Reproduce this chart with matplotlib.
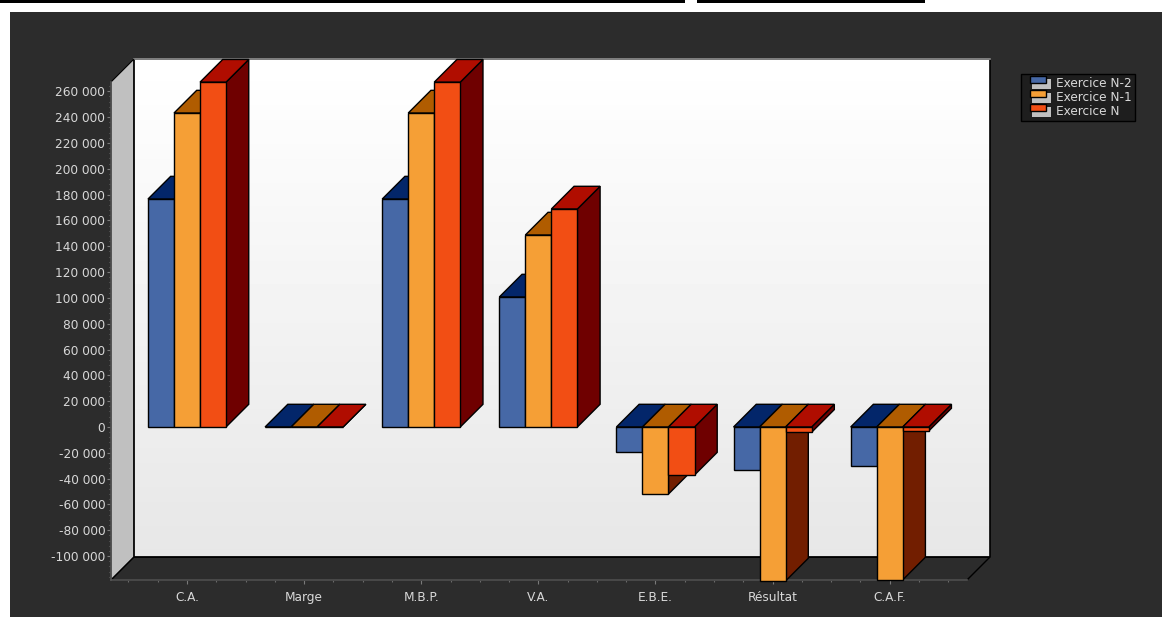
import numpy as np
import matplotlib
matplotlib.use('Agg')
import matplotlib.pyplot as plt
from matplotlib.patches import Polygon, Rectangle
from matplotlib.legend_handler import HandlerBase
from matplotlib.ticker import FuncFormatter, MultipleLocator

# DATA
categories = ['C.A.', 'Marge', 'M.B.P.', 'V.A.', 'E.B.E.', 'Résultat', 'C.A.F.']
series_names = ['Exercice N-2', 'Exercice N-1', 'Exercice N']
exercice_n2 = [176500, 0, 176500, 100650, -19600, -33000, -30400]
exercice_n1 = [243100, 0, 243100, 148650, -51900, -119200, -118400]
exercice_n = [267000, 0, 267000, 168800, -37200, -4100, -3100]

# STYLE
front_colors = ['#4668a6', '#f59f36', '#f24e14']
top_colors = ['#03266a', '#b05c00', '#b00d00']
side_colors = ['#03266a', '#721e00', '#6f0000']
panel_color = '#2c2c2c'
text_color = '#d8d8d8'
W, H = 1162, 617
DEPTH = 22.7  # pixels
PX = 0.72  # one pixel in points at dpi 100


def px_axes(fig, left, top, right, bottom):
    return fig.add_axes([left / W, 1 - bottom / H, (right - left) / W, (bottom - top) / H])


class ShadowHandler(HandlerBase):
    def create_artists(self, legend, orig, xd, yd, width, height, fontsize, trans):
        x0 = -xd
        cy = -yd + height / 2
        shadow = Rectangle((x0 + 7.5 * PX, cy - 6.5 * PX), 19 * PX, 10 * PX, fc='#c0c0c0', ec='none', transform=trans)
        box = Rectangle((x0 + 5 * PX, cy - 0.5 * PX), 16 * PX, 7 * PX, fc=orig[0].get_facecolor(), ec='black', lw=1, transform=trans)
        return [shadow, box]


fig = plt.figure(figsize=(W / 100, H / 100), dpi=100, facecolor='white')

# dark panel + the black page bars at the very top
fig.add_artist(Rectangle((10 / W, 0), 1 - 10 / W, 1 - 12 / H, transform=fig.transFigure, fc=panel_color, ec='none', zorder=-1))
fig.add_artist(Rectangle((0, 1 - 3 / H), 685 / W, 3 / H, transform=fig.transFigure, fc='black', ec='none', zorder=-1))
fig.add_artist(Rectangle((697 / W, 1 - 3 / H), 228 / W, 3 / H, transform=fig.transFigure, fc='black', ec='none', zorder=-1))

ax = px_axes(fig, 111, 82, 967, 580)
ax.patch.set_visible(False)
xmin, xmax = -0.649, 6.66
ymin, ymax = -118470, 267130
ax.set_xlim(xmin, xmax)
ax.set_ylim(ymin, ymax)

dx = DEPTH * (xmax - xmin) / 856
dy = DEPTH * (ymax - ymin) / 498

# back wall
gradient = np.linspace(1, 0.905, 64).reshape(-1, 1)
ax.imshow(gradient, extent=(xmin + dx, xmax + dx, ymin + dy, ymax + dy), aspect='auto', cmap='gray',
          vmin=0, vmax=1, zorder=1, clip_on=False)
ax.set_xlim(xmin, xmax)
ax.set_ylim(ymin, ymax)
ax.plot([xmin + dx, xmin + dx, xmax + dx, xmax + dx, xmin + dx], [ymax + dy, ymin + dy, ymin + dy, ymax + dy, ymax + dy],
        color='black', lw=1.2, zorder=1.5, clip_on=False)
ax.plot([xmin + dx, xmax + dx], [ymax + dy, ymax + dy], color='#909090', lw=1.2, zorder=1.6, clip_on=False)

# left wall and floor
ax.add_patch(Polygon([(xmin, ymin), (xmin + dx, ymin + dy), (xmin + dx, ymax + dy), (xmin, ymax)],
                     fc='#c0c0c0', ec='black', lw=0.8, zorder=1.7, clip_on=False))
ax.add_patch(Polygon([(xmin, ymin), (xmax, ymin), (xmax + dx, ymin + dy), (xmin + dx, ymin + dy)],
                     fc=panel_color, ec='black', lw=1, zorder=1.7, clip_on=False))

# bars, left to right so each one overlaps the faces of the previous one
bar_width = 2 / 9
x = np.arange(len(categories))
all_series = [exercice_n2, exercice_n1, exercice_n]
for s, values in enumerate(all_series):
    z = 3 + s
    lefts = x + (s - 1.5) * bar_width
    for left, val in zip(lefts, values):
        right = left + bar_width
        top = max(val, 0)
        bottom = min(val, 0)
        ax.add_patch(Polygon([(right, bottom), (right + dx, bottom + dy), (right + dx, top + dy), (right, top)],
                             fc=side_colors[s], ec='black', lw=1, zorder=z, clip_on=False))
        ax.add_patch(Polygon([(left, top), (left + dx, top + dy), (right + dx, top + dy), (right, top)],
                             fc=top_colors[s], ec='black', lw=1, zorder=z, clip_on=False))
    ax.bar(lefts, values, width=bar_width, align='edge', color=front_colors[s], edgecolor='black', lw=1,
           zorder=z + 0.5, clip_on=False, label=series_names[s])

# axes
for name in ['top', 'right']:
    ax.spines[name].set_visible(False)
for name in ['left', 'bottom']:
    ax.spines[name].set_color('#555555')
    ax.spines[name].set_linewidth(1.2)
    ax.spines[name].set_zorder(2)
ax.set_xticks(x)
ax.set_xticklabels(categories, va='baseline')
ax.xaxis.set_minor_locator(MultipleLocator(0.25))
ax.yaxis.set_major_locator(MultipleLocator(20000))
ax.yaxis.set_minor_locator(MultipleLocator(4000))
ax.yaxis.set_major_formatter(FuncFormatter(lambda v, pos: f'{int(v):,}'.replace(',', ' ')))
ax.tick_params(axis='both', which='major', length=3, width=0.8, color='#7a7a7a', labelcolor=text_color, labelsize=8.7)
ax.tick_params(axis='both', which='minor', length=1.6, width=0.8, color='#6a6a6a')
ax.tick_params(axis='x', which='major', direction='out', pad=12)
ax.tick_params(axis='y', which='major', direction='out', pad=1.2)

handles, labels = ax.get_legend_handles_labels()
leg = ax.legend(handles, labels, loc='upper left', bbox_to_anchor=(1021 / W, 1 - 73.5 / H),
                bbox_transform=fig.transFigure, frameon=True, fancybox=False, facecolor='#1e1e1e', edgecolor='black',
                framealpha=1, fontsize=8.7, labelcolor=text_color, handler_map={h: ShadowHandler() for h in handles},
                borderpad=0.3, labelspacing=0.06, handlelength=2.2, handleheight=0.8, handletextpad=0.4,
                borderaxespad=0)
leg.set_zorder(20)

fig.savefig('out.png', dpi=100, facecolor=fig.get_facecolor())
